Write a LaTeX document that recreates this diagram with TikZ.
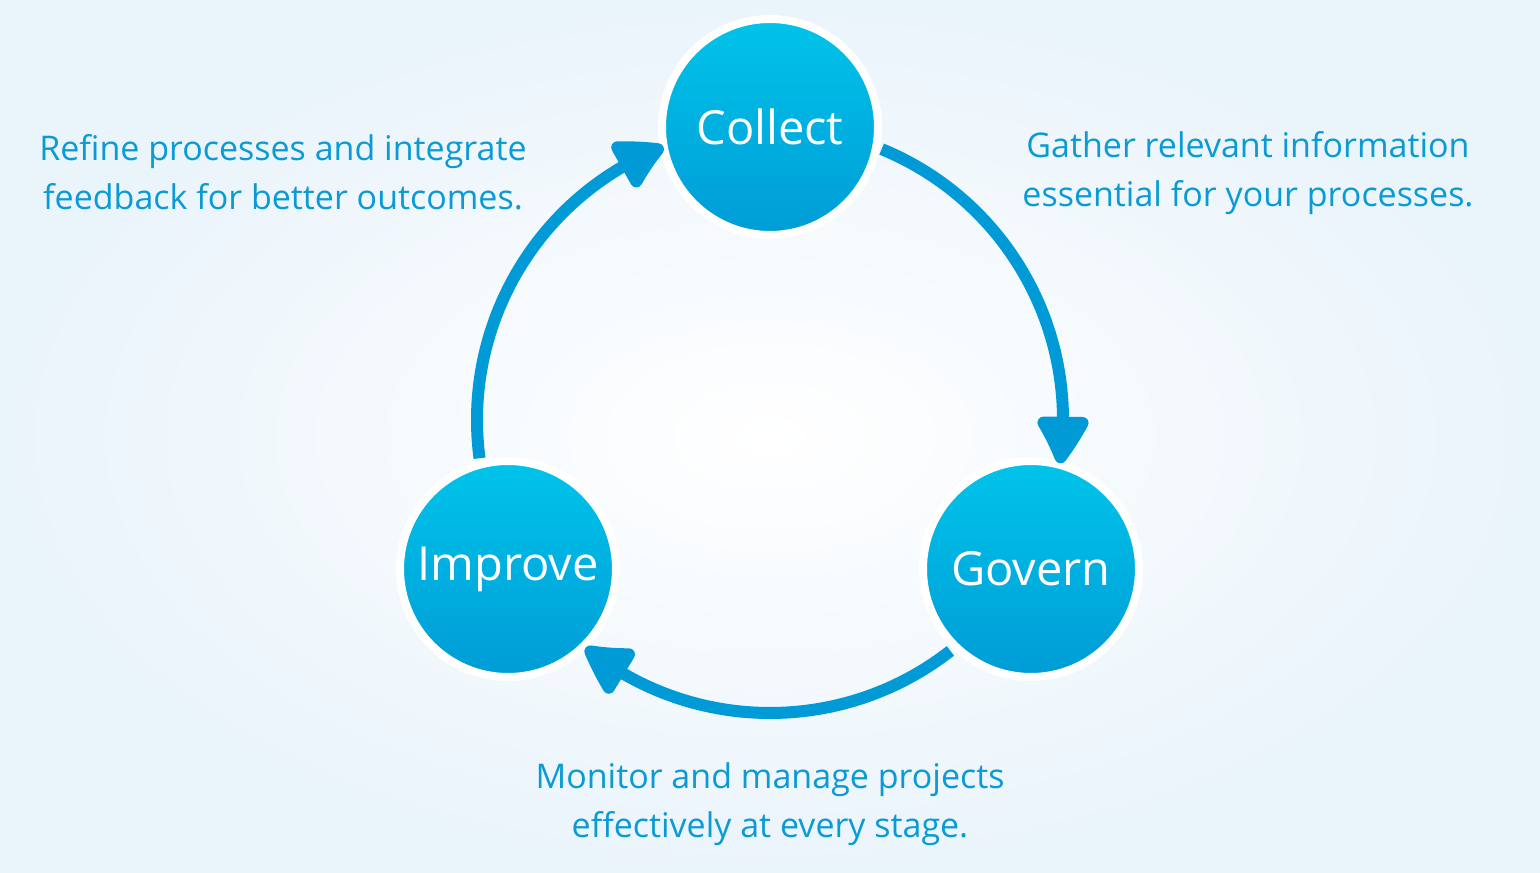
\documentclass[tikz,border=0pt]{standalone}
\usepackage{fontspec}
\setmainfont{Open Sans}
\usetikzlibrary{arrows.meta,bending}
\definecolor{arcblue}{HTML}{009BD6}
\definecolor{txtblue}{HTML}{0A9AD6}
\definecolor{topcyan}{HTML}{00C4EA}
\definecolor{botblue}{HTML}{009CD6}
\definecolor{bgedge}{HTML}{EAF4FB}
\tikzset{
  stage/.style={circle, minimum size=216pt, inner sep=0pt, draw=white, line width=8pt,
    top color=topcyan, bottom color=botblue, text=white, font=\fontsize{47}{52}\selectfont},
  desc/.style={align=center, text=txtblue, font=\fontsize{34}{49}\selectfont},
  flow/.style={draw=arcblue, line width=12pt, -{Triangle[length=54pt,width=56pt,round,bend]}}
}
\begin{document}
\begin{tikzpicture}[x=1pt,y=1pt]
\useasboundingbox (0,0) rectangle (1540,873);
\shade[inner color=white, outer color=bgedge] (0,0) rectangle (1540,873);
\coordinate (O) at (770,453);
\node[stage] (collect) at (770,746) {Collect};
\node[stage] (govern) at (1031,304) {Govern};
\node[stage] (improve) at (508,304) {Improve};
\draw[flow] (O) ++(67.6:293) arc[start angle=67.6, end angle=-8.5, radius=293];
\draw[flow] (O) ++(-52:293) arc[start angle=-52, end angle=-129, radius=293];
\draw[flow] (O) ++(187.5:293) arc[start angle=187.5, end angle=111.3, radius=293];
\node[desc] (tl) at (283,701) {Refine processes and integrate\\feedback for better outcomes.};
\node[desc] (tr) at (1248,700) {Gather relevant information\\essential for your processes.};
\node[desc] (bt) at (770,69) {Monitor and manage projects\\effectively at every stage.};
\end{tikzpicture}
\end{document}
